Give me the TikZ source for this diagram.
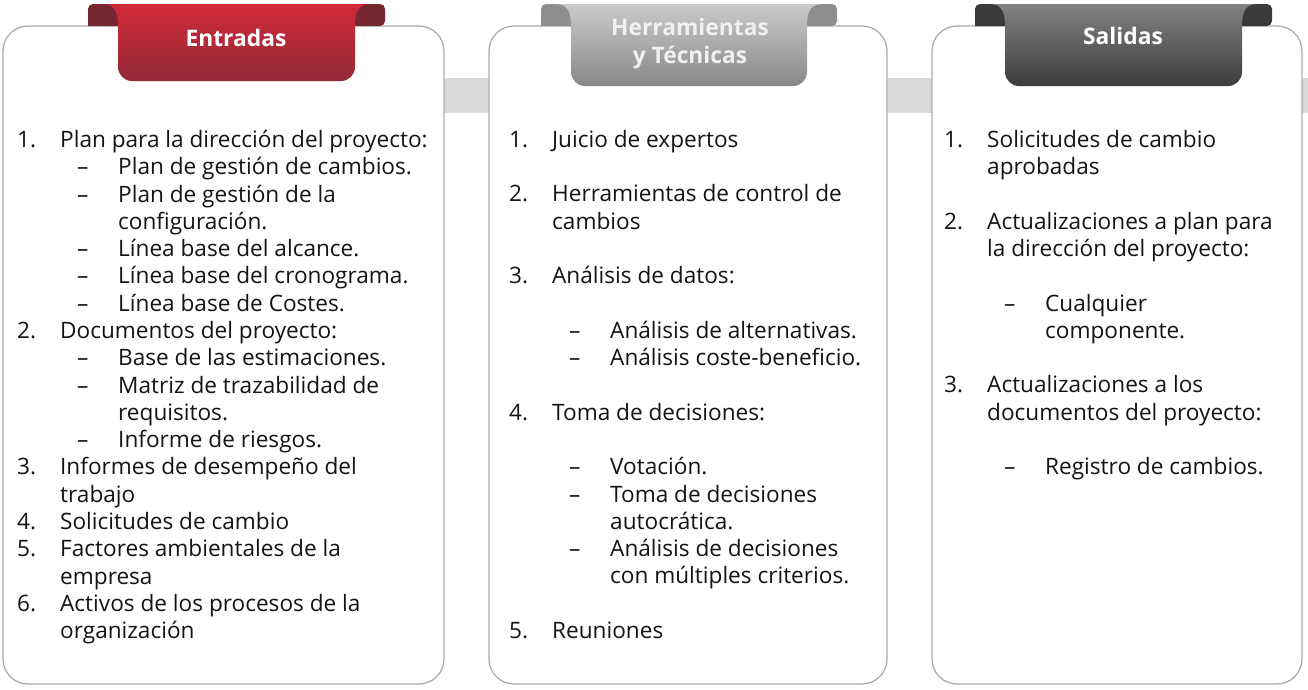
\documentclass[tikz,border=0pt]{standalone}
\usepackage{fontspec}
\setmainfont{Open Sans}
\usepackage{tikz}
\usetikzlibrary{positioning}

\definecolor{redtop}{RGB}{210,41,57}
\definecolor{redbot}{RGB}{146,42,55}
\definecolor{redband}{RGB}{118,38,49}
\definecolor{graytop}{RGB}{202,202,202}
\definecolor{graybot}{RGB}{136,136,136}
\definecolor{grayband}{RGB}{142,142,142}
\definecolor{darktop}{RGB}{130,130,130}
\definecolor{darkbot}{RGB}{60,60,58}
\definecolor{darkband}{RGB}{58,58,56}
\definecolor{boxline}{RGB}{172,172,172}
\definecolor{barfill}{RGB}{217,217,217}
\definecolor{bodytext}{RGB}{20,20,20}

% numbered item, dashed sub item, continuation lines
\newcommand{\nitem}[2]{\makebox[43pt][l]{#1}#2}
\newcommand{\ditem}[1]{\hspace*{60pt}\makebox[41pt][l]{–}#1}
\newcommand{\ncont}[1]{\hspace*{43pt}#1}
\newcommand{\dcont}[1]{\hspace*{101pt}#1}
\newcommand{\blankline}{\mbox{}}

% ribbon tab: left, right, bottom, top colour, bottom colour, band colour
\newcommand{\ribbontab}[6]{%
  \fill[#6, rounded corners=5pt] (#1-30,4) -- (#2+30,4) -- (#2+30,26) [sharp corners] -- (#1-30,26) [rounded corners=5pt] -- cycle;
  \shade[top color=#4, bottom color=#5]
    (#1-16,4) -- (#2+16,4) .. controls (#2+3,4) and (#2,12) .. (#2,26)
    [rounded corners=14pt] -- (#2,#3) -- (#1,#3) [sharp corners] -- (#1,26)
    .. controls (#1,12) and (#1-3,4) .. (#1-16,4) -- cycle;
}

\begin{document}
\begin{tikzpicture}[x=1pt,y=-1pt,
  panel/.style={draw=boxline,line width=1.3pt,fill=white,rounded corners=25pt},
  connbar/.style={fill=barfill},
  tabtitle/.style={text=white,font=\fontsize{22.8}{28}\selectfont\bfseries,align=center},
  itemlist/.style={anchor=north west,inner sep=0pt,align=left,text=bodytext,
    font=\fontsize{22.6}{27.28}\selectfont}]
\useasboundingbox (0,0) rectangle (1308,689);

% connecting bars
\fill[connbar] (440,78) rectangle (493,113);
\fill[connbar] (883,78) rectangle (936,113);
\fill[connbar] (1298,78) rectangle (1308,113);

% panels
\draw[panel] (3,26) rectangle (444,684);
\draw[panel] (489,26) rectangle (887,684);
\draw[panel] (932,26) rectangle (1302,684);

% tabs
\ribbontab{118}{355}{81}{redtop}{redbot}{redband}
\ribbontab{571}{807}{86}{graytop}{graybot}{grayband}
\ribbontab{1005}{1242}{86}{darktop}{darkbot}{darkband}

\node[tabtitle] (entradas) at (236,38) {Entradas};
\node[tabtitle,text=white!94!black] (herramientas) at (690,44) {Herramientas\\y Técnicas};
\node[tabtitle] (salidas) at (1123,36) {Salidas};

% lists
\node[itemlist] (listentradas) at (17,130) {%
  \nitem{1.}{Plan para la dirección del proyecto:}\\
  \ditem{Plan de gestión de cambios.}\\
  \ditem{Plan de gestión de la}\\
  \dcont{configuración.}\\
  \ditem{Línea base del alcance.}\\
  \ditem{Línea base del cronograma.}\\
  \ditem{Línea base de Costes.}\\
  \nitem{2.}{Documentos del proyecto:}\\
  \ditem{Base de las estimaciones.}\\
  \ditem{Matriz de trazabilidad de}\\
  \dcont{requisitos.}\\
  \ditem{Informe de riesgos.}\\
  \nitem{3.}{Informes de desempeño del}\\
  \ncont{trabajo}\\
  \nitem{4.}{Solicitudes de cambio}\\
  \nitem{5.}{Factores ambientales de la}\\
  \ncont{empresa}\\
  \nitem{6.}{Activos de los procesos de la}\\
  \ncont{organización}};

\node[itemlist] (listherramientas) at (509,130) {%
  \nitem{1.}{Juicio de expertos}\\
  \blankline\\
  \nitem{2.}{Herramientas de control de}\\
  \ncont{cambios}\\
  \blankline\\
  \nitem{3.}{Análisis de datos:}\\
  \blankline\\
  \ditem{Análisis de alternativas.}\\
  \ditem{Análisis coste-beneficio.}\\
  \blankline\\
  \nitem{4.}{Toma de decisiones:}\\
  \blankline\\
  \ditem{Votación.}\\
  \ditem{Toma de decisiones}\\
  \dcont{autocrática.}\\
  \ditem{Análisis de decisiones}\\
  \dcont{con múltiples criterios.}\\
  \blankline\\
  \nitem{5.}{Reuniones}};

\node[itemlist] (listsalidas) at (944,130) {%
  \nitem{1.}{Solicitudes de cambio}\\
  \ncont{aprobadas}\\
  \blankline\\
  \nitem{2.}{Actualizaciones a plan para}\\
  \ncont{la dirección del proyecto:}\\
  \blankline\\
  \ditem{Cualquier}\\
  \dcont{componente.}\\
  \blankline\\
  \nitem{3.}{Actualizaciones a los}\\
  \ncont{documentos del proyecto:}\\
  \blankline\\
  \ditem{Registro de cambios.}};
\end{tikzpicture}
\end{document}
